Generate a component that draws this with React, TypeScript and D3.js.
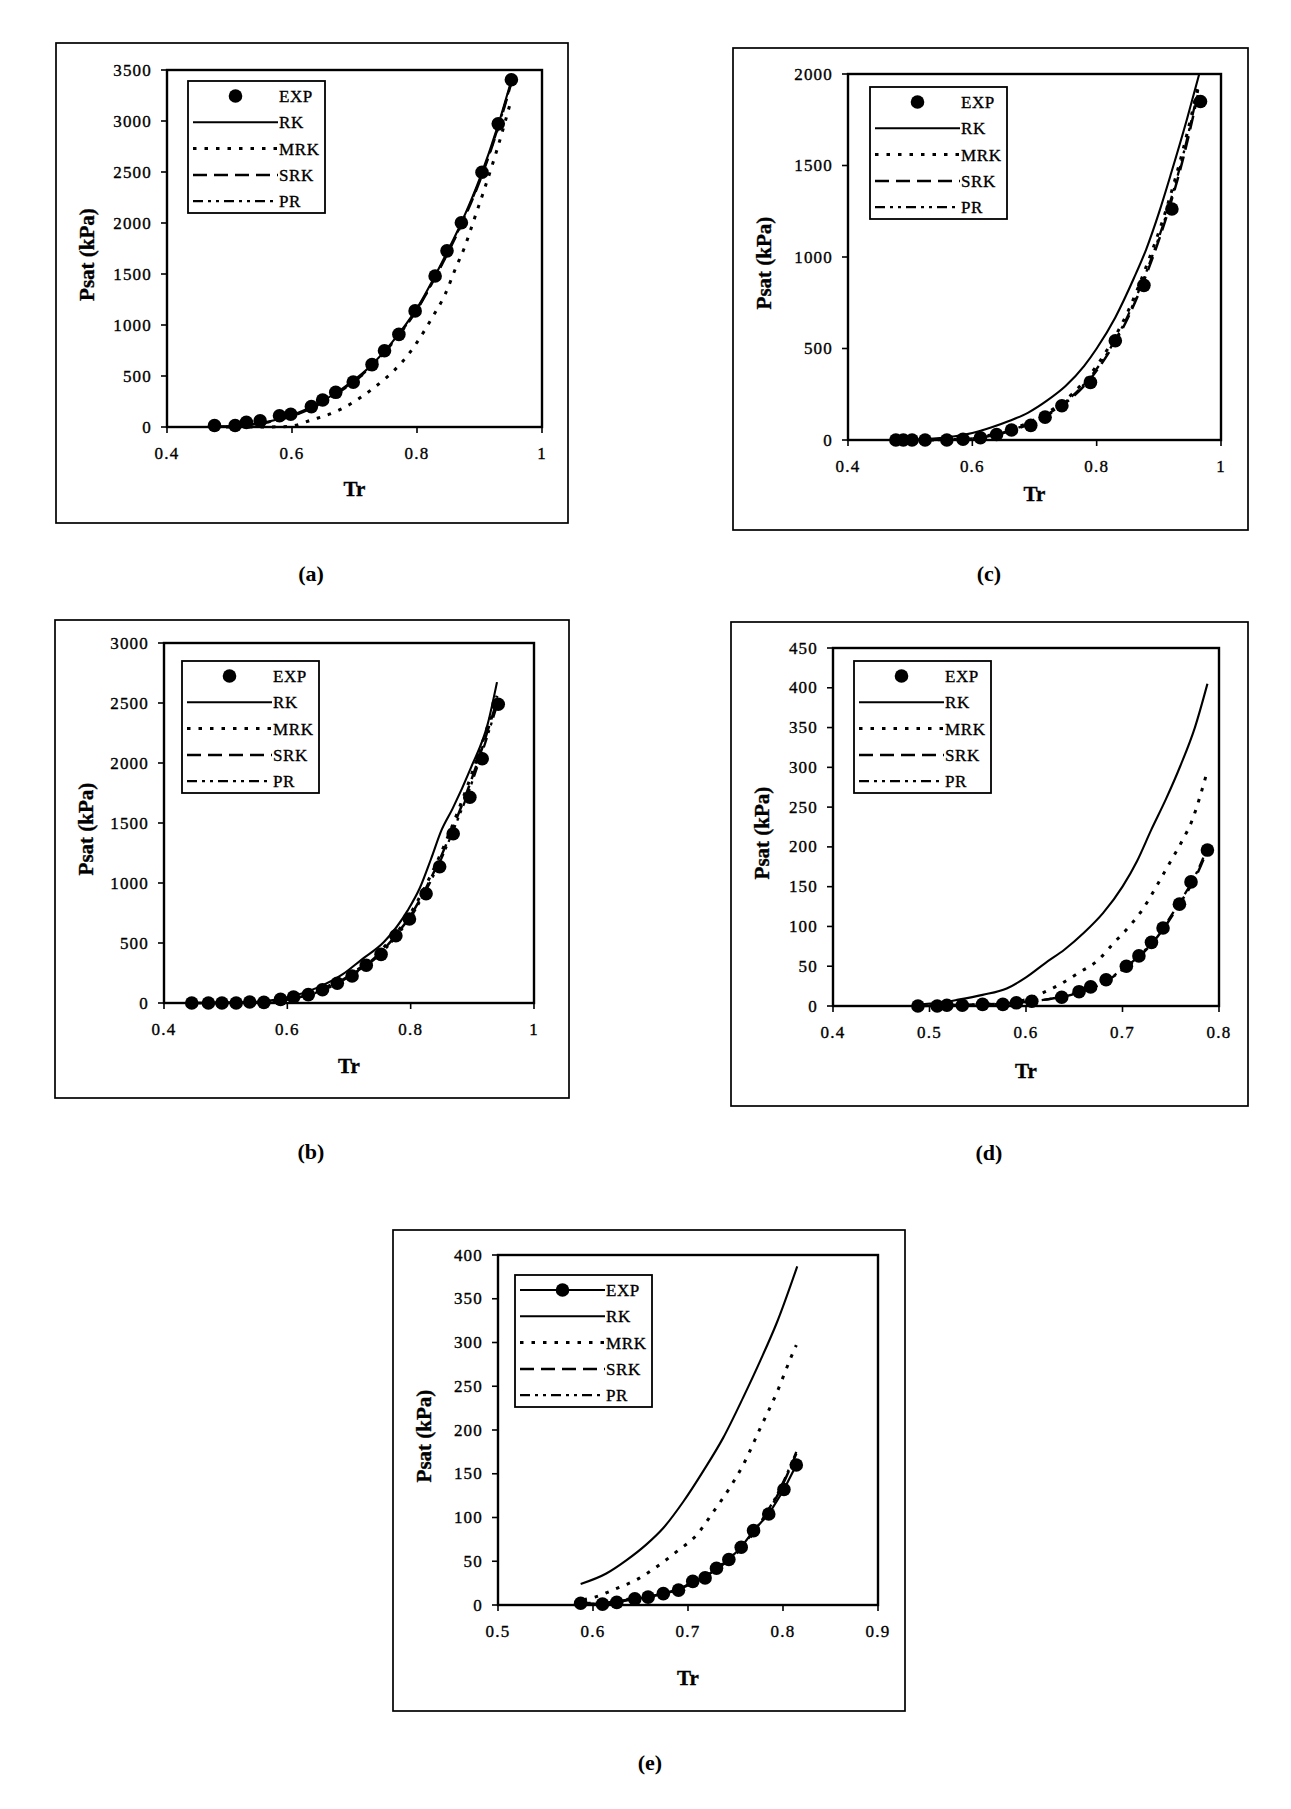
import React from "react";
import * as d3 from "d3";

const FONT = "'Liberation Serif', 'Times New Roman', Times, serif";

// ---------- panel (a) ----------
const aExpTr = [0.476, 0.509, 0.527, 0.549, 0.58, 0.598, 0.631, 0.649, 0.67, 0.698, 0.728, 0.748, 0.771, 0.797, 0.829, 0.848, 0.871, 0.904, 0.93, 0.951];
const aExpP = [15, 15, 45, 60, 110, 125, 200, 265, 340, 440, 612, 748, 908, 1138, 1480, 1727, 2003, 2497, 2972, 3405];
const aModTr = [0.476, 0.52, 0.56, 0.6, 0.64, 0.68, 0.72, 0.76, 0.8, 0.84, 0.87, 0.9, 0.93, 0.951];
const aRkP = [3, 15, 50, 115, 225, 375, 565, 830, 1165, 1615, 1990, 2430, 2965, 3400];
const aSrkP = [2, 12, 44, 106, 212, 360, 548, 815, 1150, 1595, 1970, 2405, 2935, 3375];
const aPrP = [2, 13, 46, 110, 218, 366, 555, 820, 1155, 1600, 1978, 2415, 2945, 3385];
const aMrkTr = [0.476, 0.54, 0.58, 0.6, 0.63, 0.67, 0.7, 0.73, 0.752, 0.778, 0.8, 0.826, 0.845, 0.862, 0.876, 0.89, 0.905, 0.92, 0.936, 0.949];
const aMrkP = [0, 0, 2, 10, 66, 150, 250, 380, 490, 650, 830, 1090, 1300, 1560, 1760, 2010, 2280, 2560, 2884, 3170];

// ---------- panel (b) ----------
const bExpTr = [0.445, 0.472, 0.494, 0.517, 0.539, 0.562, 0.589, 0.61, 0.634, 0.657, 0.681, 0.705, 0.728, 0.752, 0.776, 0.798, 0.825, 0.847, 0.869, 0.896, 0.916, 0.942];
const bExpP = [0, 0, 0, 0, 8, 5, 30, 50, 70, 110, 165, 225, 315, 405, 560, 700, 910, 1135, 1410, 1715, 2035, 2490];
const bRkTr = [0.445, 0.5, 0.55, 0.6, 0.65, 0.69, 0.72, 0.757, 0.795, 0.815, 0.833, 0.85, 0.868, 0.898, 0.925, 0.94];
const bRkP = [0, 2, 10, 45, 130, 240, 360, 510, 770, 960, 1200, 1440, 1620, 1964, 2326, 2674];
const bModTr = [0.445, 0.5, 0.55, 0.6, 0.63, 0.66, 0.69, 0.72, 0.75, 0.78, 0.8, 0.825, 0.85, 0.87, 0.895, 0.915, 0.94];
const bMrkP = [0, 1, 7, 33, 68, 125, 205, 300, 430, 605, 750, 985, 1260, 1510, 1850, 2150, 2560];
const bSrkP = [0, 1, 6, 30, 62, 118, 195, 290, 415, 590, 730, 960, 1230, 1480, 1810, 2110, 2520];
const bPrP = [0, 1, 5, 28, 60, 112, 188, 282, 405, 575, 715, 940, 1205, 1450, 1775, 2075, 2480];

// ---------- panel (c) ----------
const cExpTr = [0.477, 0.489, 0.503, 0.524, 0.559, 0.585, 0.613, 0.639, 0.663, 0.694, 0.717, 0.744, 0.79, 0.83, 0.876, 0.921, 0.967];
const cExpP = [0, 0, 0, 0, 0, 4, 12, 30, 55, 80, 125, 187, 315, 542, 845, 1262, 1850];
const cRkTr = [0.477, 0.52, 0.56, 0.6, 0.63, 0.66, 0.69, 0.72, 0.75, 0.78, 0.8, 0.83, 0.86, 0.88, 0.9, 0.92, 0.945, 0.965];
const cRkP = [0, 4, 15, 38, 68, 105, 150, 215, 295, 405, 500, 670, 885, 1045, 1240, 1460, 1750, 2000];
const cModTr = [0.477, 0.52, 0.56, 0.6, 0.64, 0.67, 0.7, 0.73, 0.76, 0.79, 0.82, 0.85, 0.88, 0.91, 0.94, 0.965];
const cMrkP = [0, 0, 2, 10, 35, 68, 110, 170, 250, 360, 510, 700, 950, 1240, 1600, 1960];
const cSrkP = [0, 0, 1, 8, 30, 60, 98, 155, 230, 335, 480, 665, 905, 1195, 1550, 1920];
const cPrP = [0, 0, 1, 9, 32, 63, 102, 160, 238, 345, 490, 678, 920, 1210, 1570, 1940];

// ---------- panel (d) ----------
const dExpTr = [0.488, 0.508, 0.518, 0.534, 0.555, 0.576, 0.59, 0.606, 0.637, 0.655, 0.667, 0.683, 0.704, 0.717, 0.73, 0.742, 0.759, 0.771, 0.788];
const dExpP = [0, 0, 1, 1, 2, 2, 4, 6, 11, 18, 24, 33, 50, 63, 80, 98, 128, 156, 196];
const dRkTr = [0.488, 0.51, 0.53, 0.555, 0.58, 0.6, 0.62, 0.64, 0.66, 0.68, 0.7, 0.715, 0.73, 0.745, 0.76, 0.775, 0.788];
const dRkP = [2, 4, 8, 14, 22, 36, 54, 71, 92, 117, 150, 182, 222, 260, 302, 350, 405];
const dMrkTr = [0.488, 0.53, 0.57, 0.6, 0.62, 0.635, 0.655, 0.675, 0.69, 0.707, 0.72, 0.735, 0.748, 0.762, 0.772, 0.78, 0.788];
const dMrkP = [0, 1, 3, 8, 18, 27, 42, 58, 78, 100, 120, 150, 178, 208, 233, 262, 296];
const dModTr = [0.488, 0.52, 0.55, 0.58, 0.6, 0.62, 0.64, 0.66, 0.68, 0.7, 0.72, 0.74, 0.76, 0.775, 0.788];
const dSrkP = [0, 1, 2, 3, 5, 8, 12, 19, 29, 45, 65, 93, 130, 160, 196];
const dPrP = [0, 1, 2, 3, 5, 8, 13, 20, 30, 46, 66, 95, 132, 163, 199];

// ---------- panel (e) ----------
const eExpTr = [0.587, 0.61, 0.625, 0.644, 0.658, 0.674, 0.69, 0.705, 0.718, 0.73, 0.743, 0.756, 0.769, 0.785, 0.801, 0.814];
const eExpP = [2, 1, 3, 7, 9, 13, 17, 27, 31, 42, 52, 66, 85, 104, 132, 160];
const eRkTr = [0.587, 0.614, 0.635, 0.656, 0.674, 0.695, 0.716, 0.737, 0.758, 0.776, 0.794, 0.815];
const eRkP = [24, 36, 51, 69, 88, 118, 153, 191, 237, 279, 324, 387];
const eMrkTr = [0.59, 0.602, 0.625, 0.646, 0.67, 0.688, 0.709, 0.727, 0.744, 0.758, 0.776, 0.794, 0.808, 0.814];
const eMrkP = [6, 9, 19, 29, 46, 61, 80, 107, 134, 160, 202, 244, 282, 297];
const eModTr = [0.587, 0.61, 0.63, 0.65, 0.67, 0.69, 0.71, 0.73, 0.75, 0.765, 0.78, 0.795, 0.814];
const eSrkP = [1, 2, 5, 8, 12, 18, 28, 41, 58, 76, 99, 127, 173];
const ePrP = [2, 3, 6, 9, 13, 19, 29, 42, 60, 78, 101, 129, 175];

// axis ticks
const trTicksWide = [0.4, 0.6, 0.8, 1];
const trTicksD = [0.4, 0.5, 0.6, 0.7, 0.8];
const trTicksE = [0.5, 0.6, 0.7, 0.8, 0.9];
const pTicksA = [0, 500, 1000, 1500, 2000, 2500, 3000, 3500];
const pTicksB = [0, 500, 1000, 1500, 2000, 2500, 3000];
const pTicksC = [0, 500, 1000, 1500, 2000];
const pTicksD = [0, 50, 100, 150, 200, 250, 300, 350, 400, 450];
const pTicksE = [0, 50, 100, 150, 200, 250, 300, 350, 400];

const legendNames = ["EXP", "RK", "MRK", "SRK", "PR"];

type Pt = [number, number];
const zip = (xs: number[], ys: number[]): Pt[] => xs.map((v, i) => [v, ys[i]]);

const styles: Record<string, { dash: string; width: number }> = {
  RK: { dash: "", width: 2.1 },
  MRK: { dash: "3.5,8", width: 3 },
  SRK: { dash: "14,7", width: 2.5 },
  PR: { dash: "10,5,3,5,3,5", width: 2.3 },
};

// scanned-print look: a thin stroke thickens the glyphs a little
const ink = { fill: "#000", stroke: "#000", strokeWidth: 0.35 };

const panels = [
  {
    id: "a", label: "(a)", labelPos: [311, 573],
    frame: { x: 56, y: 43, w: 512, h: 480 },
    plot: { x: 167, y: 70, w: 375, h: 357 },
    xDomain: [0.4, 1], yDomain: [0, 3500], xTicks: trTicksWide, yTicks: pTicksA,
    legend: { dx: 21, dy: 11 }, trOffset: 69, expLine: false,
    exp: zip(aExpTr, aExpP),
    models: { RK: zip(aModTr, aRkP), MRK: zip(aMrkTr, aMrkP), SRK: zip(aModTr, aSrkP), PR: zip(aModTr, aPrP) },
  },
  {
    id: "c", label: "(c)", labelPos: [989, 573],
    frame: { x: 733, y: 48, w: 515, h: 482 },
    plot: { x: 848, y: 74, w: 373, h: 366 },
    xDomain: [0.4, 1], yDomain: [0, 2000], xTicks: trTicksWide, yTicks: pTicksC,
    legend: { dx: 22, dy: 13 }, trOffset: 61, expLine: false,
    exp: zip(cExpTr, cExpP),
    models: { RK: zip(cRkTr, cRkP), MRK: zip(cModTr, cMrkP), SRK: zip(cModTr, cSrkP), PR: zip(cModTr, cPrP) },
  },
  {
    id: "b", label: "(b)", labelPos: [311, 1151],
    frame: { x: 55, y: 620, w: 514, h: 478 },
    plot: { x: 164, y: 643, w: 370, h: 360 },
    xDomain: [0.4, 1], yDomain: [0, 3000], xTicks: trTicksWide, yTicks: pTicksB,
    legend: { dx: 18, dy: 18 }, trOffset: 70, expLine: false,
    exp: zip(bExpTr, bExpP),
    models: { RK: zip(bRkTr, bRkP), MRK: zip(bModTr, bMrkP), SRK: zip(bModTr, bSrkP), PR: zip(bModTr, bPrP) },
  },
  {
    id: "d", label: "(d)", labelPos: [989, 1152],
    frame: { x: 731, y: 622, w: 517, h: 484 },
    plot: { x: 833, y: 648, w: 386, h: 358 },
    xDomain: [0.4, 0.8], yDomain: [0, 450], xTicks: trTicksD, yTicks: pTicksD,
    legend: { dx: 21, dy: 13 }, trOffset: 72, expLine: false,
    exp: zip(dExpTr, dExpP),
    models: { RK: zip(dRkTr, dRkP), MRK: zip(dMrkTr, dMrkP), SRK: zip(dModTr, dSrkP), PR: zip(dModTr, dPrP) },
  },
  {
    id: "e", label: "(e)", labelPos: [650, 1762],
    frame: { x: 393, y: 1230, w: 512, h: 481 },
    plot: { x: 498, y: 1255, w: 380, h: 350 },
    xDomain: [0.5, 0.9], yDomain: [0, 400], xTicks: trTicksE, yTicks: pTicksE,
    legend: { dx: 17, dy: 20 }, trOffset: 80, expLine: true,
    exp: zip(eExpTr, eExpP),
    models: { RK: zip(eRkTr, eRkP), MRK: zip(eMrkTr, eMrkP), SRK: zip(eModTr, eSrkP), PR: zip(eModTr, ePrP) },
  },
];

const fmtTr = (d: number) => (Number.isInteger(d) ? String(d) : d.toFixed(1));

function Panel({ cfg }: { cfg: any }) {
  const { frame, plot } = cfg;
  const x = d3.scaleLinear().domain(cfg.xDomain).range([plot.x, plot.x + plot.w]);
  const y = d3.scaleLinear().domain(cfg.yDomain).range([plot.y + plot.h, plot.y]);
  const smooth = d3.line<Pt>().x((d) => x(d[0])).y((d) => y(d[1])).curve(d3.curveMonotoneX);
  const straight = d3.line<Pt>().x((d) => x(d[0])).y((d) => y(d[1]));
  const x0 = plot.x;
  const yBase = plot.y + plot.h;

  const lg = { x: plot.x + cfg.legend.dx, y: plot.y + cfg.legend.dy, w: 137, h: 132 };
  const rowY = (i: number) => lg.y + 15 + i * 26.3;

  return (
    <g>
      <rect x={frame.x} y={frame.y} width={frame.w} height={frame.h} fill="none" stroke="#000" strokeWidth={1.7} />
      <rect x={plot.x} y={plot.y} width={plot.w} height={plot.h} fill="none" stroke="#000" strokeWidth={2.4} />

      {/* y axis ticks and labels */}
      {cfg.yTicks.map((t: number) => (
        <g key={"y" + t}>
          <line x1={x0 - 6} x2={x0} y1={y(t)} y2={y(t)} stroke="#000" strokeWidth={1.6} />
          <text x={x0 - 15} y={y(t) + 5.5} textAnchor="end" fontSize={17} letterSpacing={1.2} fontFamily={FONT} {...ink}>
            {t}
          </text>
        </g>
      ))}
      {/* x axis ticks and labels */}
      {cfg.xTicks.map((t: number) => (
        <g key={"x" + t}>
          <line x1={x(t)} x2={x(t)} y1={yBase} y2={yBase + 6} stroke="#000" strokeWidth={1.6} />
          <text x={x(t)} y={yBase + 32} textAnchor="middle" fontSize={17} letterSpacing={1.2} fontFamily={FONT} {...ink}>
            {fmtTr(t)}
          </text>
        </g>
      ))}

      <text
        transform={`translate(${frame.x + 38},${plot.y + plot.h / 2 + 6}) rotate(-90)`}
        textAnchor="middle"
        fontSize={21}
        fontWeight="bold"
        fontFamily={FONT}
        {...ink}
      >
        Psat (kPa)
      </text>
      <text x={plot.x + plot.w / 2} y={yBase + cfg.trOffset} textAnchor="middle" fontSize={21} fontWeight="bold" fontFamily={FONT} {...ink}>
        Tr
      </text>

      {/* model curves */}
      {Object.entries(cfg.models).map(([name, pts]: [string, any]) => (
        <path
          key={name}
          d={smooth(pts) || ""}
          fill="none"
          stroke="#000"
          strokeWidth={styles[name].width}
          strokeDasharray={styles[name].dash || undefined}
        />
      ))}

      {/* experimental points */}
      {cfg.expLine && <path d={straight(cfg.exp) || ""} fill="none" stroke="#000" strokeWidth={2.2} />}
      {cfg.exp.map((d: Pt, i: number) => (
        <circle key={i} cx={x(d[0])} cy={y(d[1])} r={6.8} fill="#000" />
      ))}

      {/* legend */}
      <rect x={lg.x} y={lg.y} width={lg.w} height={lg.h} fill="#fff" stroke="#000" strokeWidth={1.8} />
      {legendNames.map((name, i) => {
        const ly = rowY(i);
        const lx1 = lg.x + 5;
        const lx2 = lg.x + 90;
        return (
          <g key={name}>
            {name === "EXP" ? (
              <>
                {cfg.expLine && <line x1={lx1} x2={lx2} y1={ly} y2={ly} stroke="#000" strokeWidth={2.2} />}
                <circle cx={(lx1 + lx2) / 2} cy={ly} r={6.8} fill="#000" />
              </>
            ) : (
              <line
                x1={lx1}
                x2={lx2}
                y1={ly}
                y2={ly}
                stroke="#000"
                strokeWidth={styles[name].width}
                strokeDasharray={styles[name].dash || undefined}
              />
            )}
            <text x={lg.x + 91} y={ly + 6} fontSize={17} letterSpacing={0.6} fontFamily={FONT} {...ink}>
              {name}
            </text>
          </g>
        );
      })}

      <text x={cfg.labelPos[0]} y={cfg.labelPos[1] + 8} textAnchor="middle" fontSize={22} fontWeight="bold" fontFamily={FONT}>
        {cfg.label}
      </text>
    </g>
  );
}

export default function App() {
  return (
    <svg
      width={1291}
      height={1809}
      viewBox="0 0 1291 1809"
      style={{ position: "absolute", left: 0, top: 0, background: "#fff" }}
    >
      <rect x={0} y={0} width={1291} height={1809} fill="#fff" />
      {panels.map((p) => (
        <Panel key={p.id} cfg={p} />
      ))}
    </svg>
  );
}
